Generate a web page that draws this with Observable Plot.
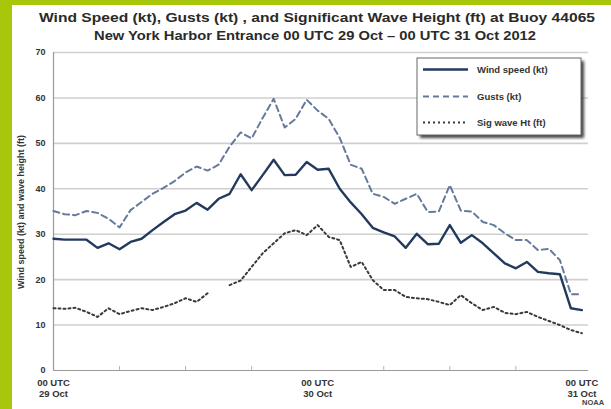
<!DOCTYPE html>
<html>
<head>
<meta charset="utf-8">
<script src="https://cdn.jsdelivr.net/npm/d3@7"></script>
<script src="https://cdn.jsdelivr.net/npm/@observablehq/plot@0.6"></script>
<style>
  html, body { margin: 0; padding: 0; background: #fff; }
  #chart svg { display: block; }
</style>
</head>
<body>
<div id="chart"></div>
<script>
// Hours since 00 UTC 29 Oct 2012
const hours = d3.range(0, 49);
const windSpeed = [29.0,28.8,28.8,28.8,27.0,28.0,26.7,28.3,29.0,30.9,32.7,34.4,35.2,36.9,35.4,37.8,38.9,43.2,39.7,43.0,46.4,43.0,43.1,45.9,44.2,44.4,40.0,37.0,34.4,31.4,30.4,29.5,27.0,30.1,27.8,27.9,32.0,28.1,29.8,28.0,25.8,23.6,22.5,23.9,21.7,21.4,21.2,13.7,13.3];
const gusts = [35.1,34.4,34.2,35.1,34.7,33.4,31.5,35.3,37.1,38.9,40.2,41.7,43.6,44.9,44.0,45.3,49.3,52.4,51.1,55.6,59.8,53.5,55.4,59.6,57.2,55.4,51.2,45.3,44.4,38.9,38.2,36.7,37.8,38.9,34.9,35.0,40.8,35.2,35.0,32.7,32.0,30.2,28.7,28.7,26.5,26.8,24.3,16.8,16.8];
const waveHeight = [13.7,13.6,13.8,12.9,11.8,13.7,12.4,13.1,13.7,13.3,14.0,14.8,15.9,15.1,17.0,null,18.8,19.8,22.8,25.8,28.0,30.2,30.9,29.8,32.0,29.4,28.7,22.8,23.9,19.9,17.7,17.7,16.2,15.9,15.7,15.1,14.4,16.6,14.8,13.3,14.0,12.7,12.4,12.9,11.8,10.9,10.0,8.9,8.2];

const seriesNames = ["Wind speed (kt)", "Gusts (kt)", "Sig wave Ht (ft)"];
const yTicks = [0, 10, 20, 30, 40, 50, 60, 70];
const xTicks = [0, 24, 48];
const xTickLabels = ["00 UTC\n29 Oct", "00 UTC\n30 Oct", "00 UTC\n31 Oct"];
const minorTicks = [6, 12, 18, 30, 36, 42];
const titleLines = [
  "Wind Speed (kt), Gusts (kt) , and Significant Wave Height (ft) at Buoy 44065",
  "New York Harbor Entrance 00 UTC 29 Oct \u2013 00 UTC 31 Oct 2012"
];
const yLabel = "Wind speed (kt) and wave height (ft)";
const credit = "NOAA";

const styles = [
  {stroke: "#223a5e", strokeWidth: 2.4, dash: null},
  {stroke: "#64799b", strokeWidth: 2, dash: "6,4"},
  {stroke: "#3a3a3a", strokeWidth: 2, dash: "2,3"}
];
const seriesValues = [windSpeed, gusts, waveHeight];
const rows = [];
seriesValues.forEach((vals, s) => hours.forEach((h, i) => rows.push({series: seriesNames[s], hour: h, value: vals[i]})));

const font = "'Liberation Sans', Arial, sans-serif";

const plot = Plot.plot({
  width: 611,
  height: 409,
  marginLeft: 53,
  marginRight: 23,
  marginTop: 52,
  marginBottom: 39,
  style: {fontFamily: font, background: "#fff", overflow: "visible"},
  x: {domain: [0, 48.6], axis: null},
  y: {domain: [0, 70], axis: null},
  marks: [
    Plot.ruleY(yTicks.filter(d => d > 0), {stroke: "#cfcfcf", strokeWidth: 1.6}),
    Plot.ruleY([0], {stroke: "#9a9a9a", strokeWidth: 1.2}),
    Plot.ruleX([0], {stroke: "#9a9a9a", strokeWidth: 1.2}),
    Plot.ruleX(minorTicks, {y1: 0, y2: 0.9, stroke: "#b5b5b5", strokeWidth: 1}),
    Plot.axisY({ticks: yTicks, label: null, tickSize: 0, tickPadding: 8, fontSize: 9, fontWeight: "bold", fill: "#333", tickFormat: d => String(d)}),
    Plot.axisX({ticks: xTicks, label: null, tickSize: 0, tickPadding: 7, fontSize: 9.5, fontWeight: "bold", fill: "#333", lineHeight: 1.2, tickFormat: (d) => xTickLabels[xTicks.indexOf(d)]}),
    ...seriesNames.map((name, s) => Plot.line(rows.filter(r => r.series === name), {
      x: "hour", y: "value",
      stroke: styles[s].stroke, strokeWidth: styles[s].strokeWidth,
      strokeDasharray: styles[s].dash, strokeLinejoin: "round"
    }))
  ]
});

document.getElementById("chart").appendChild(plot);
const svg = d3.select(plot);

// green frame
svg.append("rect").attr("x", 0).attr("y", 0).attr("width", 611).attr("height", 5).attr("fill", "#a8c60a");
svg.append("rect").attr("x", 0).attr("y", 0).attr("width", 12).attr("height", 409).attr("fill", "#a8c60a");

// titles
svg.append("text").attr("x", 317).attr("y", 22).attr("text-anchor", "middle")
  .attr("font-family", font).attr("font-size", 13).attr("font-weight", "bold").attr("fill", "#2a2a2a")
  .attr("textLength", 556).attr("lengthAdjust", "spacingAndGlyphs")
  .text(titleLines[0]);
svg.append("text").attr("x", 315).attr("y", 40).attr("text-anchor", "middle")
  .attr("font-family", font).attr("font-size", 13).attr("font-weight", "bold").attr("fill", "#2a2a2a")
  .attr("textLength", 442).attr("lengthAdjust", "spacingAndGlyphs")
  .text(titleLines[1]);

// y label
svg.append("text").attr("transform", "translate(24,212) rotate(-90)").attr("text-anchor", "middle")
  .attr("font-family", font).attr("font-size", 9).attr("font-weight", "bold").attr("fill", "#333")
  .text(yLabel);

// credit
svg.append("text").attr("x", 582).attr("y", 405).attr("text-anchor", "start").attr("font-family", font).attr("font-size", 7.5)
  .attr("font-weight", "bold").attr("fill", "#444").text(credit);

// legend
const defs = svg.append("defs");
defs.append("filter").attr("id", "blur").append("feGaussianBlur").attr("stdDeviation", 1.5);
const lg = svg.append("g");
lg.append("rect").attr("x", 420).attr("y", 61).attr("width", 164).attr("height", 77).attr("fill", "#444").attr("filter", "url(#blur)");
lg.append("rect").attr("x", 417).attr("y", 58).attr("width", 164).attr("height", 77).attr("fill", "#fff").attr("stroke", "#666").attr("stroke-width", 1);
const rowY = [69.5, 96.5, 122.5];
seriesNames.forEach((name, s) => {
  lg.append("line").attr("x1", 423).attr("x2", 468).attr("y1", rowY[s]).attr("y2", rowY[s])
    .attr("stroke", styles[s].stroke).attr("stroke-width", styles[s].strokeWidth)
    .attr("stroke-dasharray", styles[s].dash);
  lg.append("text").attr("x", 477).attr("y", rowY[s]).attr("dy", "0.35em").attr("text-anchor", "start")
    .attr("font-family", font).attr("font-size", 9.5).attr("font-weight", "bold").attr("fill", "#333")
    .text(name);
});
</script>
</body>
</html>
